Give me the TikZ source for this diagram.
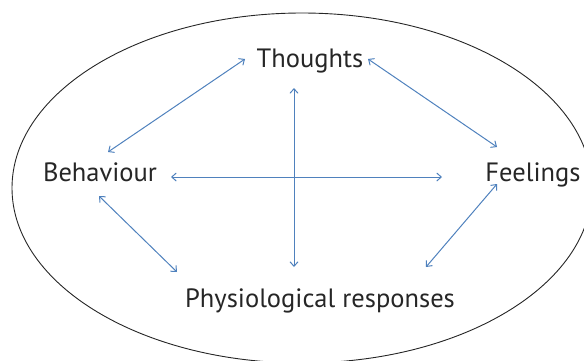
\documentclass[tikz,border=0pt]{standalone}
\usepackage{fontspec}
\setmainfont{PT Sans}
\usepackage{tikz}
\usetikzlibrary{arrows.meta}
\definecolor{linkblue}{RGB}{79,129,189}
\tikzset{
		factor/.style={anchor=base, inner sep=0pt, text=black!85, font=\fontsize{26.5}{30}\selectfont},
		link/.style={<->, linkblue, line width=1pt},
		frame/.style={draw=black!85, line width=0.9pt}
	}

\begin{document}
\begin{tikzpicture}[>={Straight Barb[length=4.5pt,width=8pt]}, x=1pt, y=-1pt]
		\useasboundingbox (0,0) rectangle (584,360);
		\draw[frame] (302,188) ellipse [x radius=290pt, y radius=175pt];

		\node[factor] (thoughts) at (310,67)  {Thoughts};
		\node[factor] (behav)    at (100,181) {Behaviour};
		\node[factor] (feel)     at (533,181) {Feelings};
		\node[factor] (physio)   at (320,307) {Physiological responses};

		\draw[link] ([shift={(-65pt,8pt)}]thoughts.base) -- ([shift={(8pt,29pt)}]behav.base);
		\draw[link] ([shift={(58pt,8pt)}]thoughts.base)  -- ([shift={(-36pt,34pt)}]feel.base);
		\draw[link] ([shift={(-16pt,-21pt)}]thoughts.base) -- ([shift={(-26pt,40pt)}]physio.base);
		\draw[link] ([shift={(71pt,4pt)}]behav.base)     -- ([shift={(-91pt,4pt)}]feel.base);
		\draw[link] ([shift={(-1pt,-15pt)}]behav.base)   -- ([shift={(-143pt,35pt)}]physio.base);
		\draw[link] ([shift={(-36pt,-3pt)}]feel.base)    -- ([shift={(106pt,40pt)}]physio.base);
	\end{tikzpicture}
\end{document}
